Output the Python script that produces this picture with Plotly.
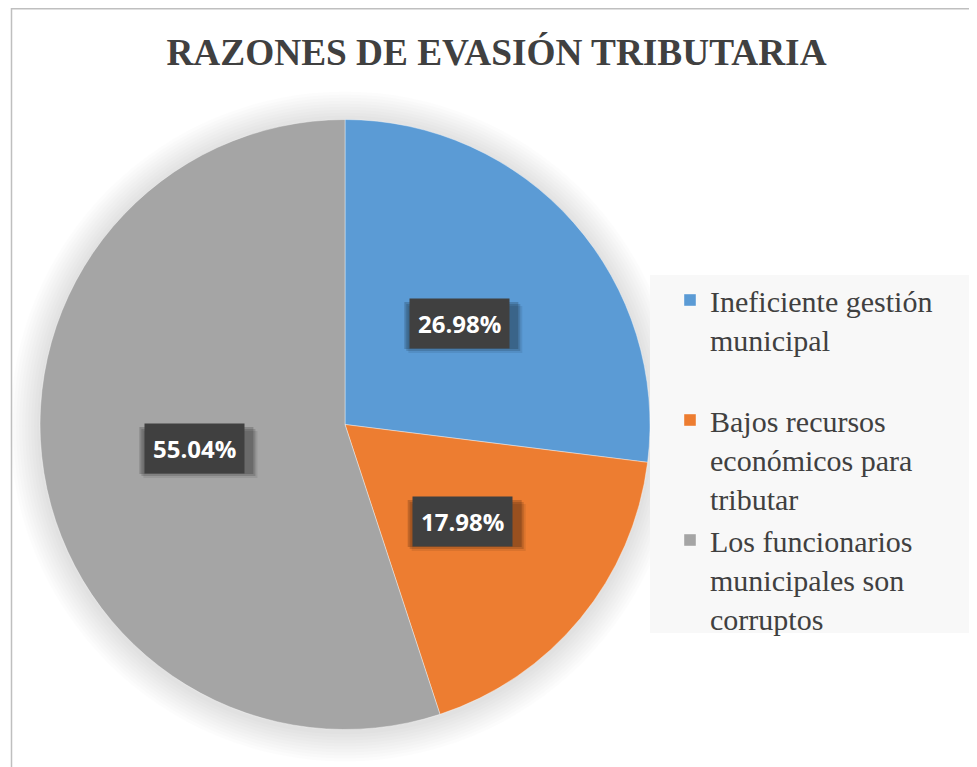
import math
import plotly.graph_objects as go

title_text = "RAZONES DE EVASIÓN TRIBUTARIA"
categories = ["Ineficiente gestión<br>municipal<br> ",
              "Bajos recursos<br>económicos para<br>tributar",
              "Los funcionarios<br>municipales son<br>corruptos"]
values = [26.98, 17.98, 55.04]
colors = ["#5B9BD5", "#ED7D31", "#A5A5A5"]

OFF = 8  # page body margin
W, H = 977 - OFF, 767 - OFF
SERIF = "Liberation Serif, Times New Roman, Tinos, serif"


def px_x(x):
    return (x - OFF) / W


def px_y(y):
    return 1 - (y - OFF) / H


# pie placement (pixels in final screenshot)
cx, cy, R = 345, 424.5, 305

fig = go.Figure()
fig.add_trace(go.Pie(
    labels=categories, values=values, sort=False, direction="clockwise",
    rotation=0, textinfo="none", hoverinfo="skip",
    marker=dict(colors=colors, line=dict(color="white", width=0.4)),
    domain=dict(x=[px_x(cx - R), px_x(cx + R)], y=[px_y(cy + R), px_y(cy - R)]),
))

shapes = []
# soft diffuse shadow around the pie
for k in range(1, 11):
    dr = 3 * k
    shapes.append(dict(type="circle", xref="paper", yref="paper", layer="below",
                       x0=px_x(cx - R - dr), x1=px_x(cx + R + dr),
                       y0=px_y(cy + 2 + R + dr), y1=px_y(cy + 2 - R - dr),
                       fillcolor="rgba(0,0,0,0.013)", line=dict(width=0)))
# legend background
shapes.append(dict(type="rect", xref="paper", yref="paper", layer="below",
                   x0=px_x(650), x1=1.05, y0=px_y(633), y1=px_y(275),
                   fillcolor="#f8f8f8", line=dict(width=0)))
# chart border
shapes.append(dict(type="rect", xref="paper", yref="paper", layer="below",
                   x0=px_x(11.5), x1=1.05, y0=-0.05, y1=px_y(8.7),
                   line=dict(color="#bfbfbf", width=1.5)))

# data labels at mid-angle, half radius
total = sum(values)
cum = 0
annotations = []
label_font = dict(family="Open Sans", size=24, color="white", weight="bold")
for v in values:
    mid = (cum + v / 2) / total * 2 * math.pi
    cum += v
    lx = px_x(cx + 0.5 * R * math.sin(mid))
    ly = px_y(cy - 0.5 * R * math.cos(mid))
    for (dx, dy, op) in [(2, 2, 0.18), (4, 4, 0.14), (6, 6, 0.08)]:
        shapes.append(dict(type="rect", xref="paper", yref="paper", layer="above",
                           xsizemode="pixel", ysizemode="pixel", xanchor=lx, yanchor=ly,
                           x0=-57 + dx, x1=57 + dx, y0=23.5 - dy, y1=-23.5 - dy,
                           fillcolor=f"rgba(0,0,0,{op})", line=dict(width=0)))
    annotations.append(dict(x=lx, y=ly, xref="paper", yref="paper", showarrow=False,
                            text=f"{v:.2f}%", borderpad=8, xanchor="center", yanchor="middle",
                            bgcolor="#404040", font=label_font))

fig.update_layout(
    width=W, height=H, margin=dict(l=0, r=0, t=0, b=0),
    paper_bgcolor="white", plot_bgcolor="white",
    title=dict(text=f"<b>{title_text}</b>", x=px_x(496.5), xanchor="center",
               y=px_y(52), yanchor="middle",
               font=dict(family=SERIF, size=37.3, color="#404040")),
    legend=dict(x=px_x(670), y=px_y(274), xanchor="left", yanchor="top",
                bgcolor="rgba(0,0,0,0)", valign="top",
                font=dict(family=SERIF, size=30, color="#404040")),
    annotations=annotations,
    shapes=shapes,
)

fig.write_html("out.html", config={"displayModeBar": False})
